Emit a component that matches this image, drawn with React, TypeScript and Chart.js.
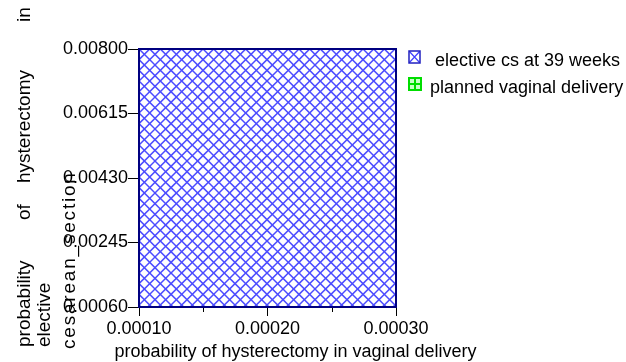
import { useEffect, useRef } from 'react';
import { Chart, registerables } from 'chart.js';

Chart.register(...registerables);

const xMin = 0.0001;
const xMax = 0.0003;
const yMin = 0.0006;
const yMax = 0.008;
const xTickValues = [0.0001, 0.0002, 0.0003];
const xTickLabels = ['0.00010', '0.00020', '0.00030'];
const xMinorTicks = [0.00015, 0.00025];
const yTickValues = [0.0006, 0.00245, 0.0043, 0.00615, 0.008];
const yTickLabels = ['0.00060', '0.00245', '0.00430', '0.00615', '0.00800'];
const seriesNames = ['elective cs at 39 weeks', 'planned vaginal delivery'];
const electiveRegionX = [0.0001, 0.0001, 0.0003, 0.0003];
const electiveRegionY = [0.0006, 0.008, 0.008, 0.0006];
const vaginalRegionX: number[] = [];
const vaginalRegionY: number[] = [];
const xTitle = 'probability of hysterectomy in vaginal delivery';
const yTitleWords = ['probability', 'of', 'hysterectomy', 'in'];
const yTitleLine2 = 'elective';
const yTitleLine3 = 'cesarean_section';

const FONT = 'Arial, "Liberation Sans", sans-serif';

function makeHatch(color: string): CanvasPattern | string {
  const c = document.createElement('canvas');
  c.width = 32;
  c.height = 32;
  const g = c.getContext('2d');
  if (!g) return color;
  const p = 32 / 3;
  g.strokeStyle = color;
  g.lineWidth = 1.5;
  for (let k = -8; k <= 12; k++) {
    const o = k * p;
    g.beginPath();
    g.moveTo(o - 40, -40);
    g.lineTo(o + 40, 40);
    g.stroke();
    g.beginPath();
    g.moveTo(o + 40, -40);
    g.lineTo(o - 40, 40);
    g.stroke();
  }
  const pat = g.createPattern(c, 'repeat');
  return pat || color;
}

export default function App() {
  const ref = useRef<HTMLCanvasElement | null>(null);
  useEffect(() => {
    const canvas = ref.current;
    if (!canvas) return;
    const hatch = makeHatch('#4c4cff');
    if (typeof hatch !== 'string') {
      try {
        hatch.setTransform(new DOMMatrix([1, 0, 0, 1, 139, 49]));
      } catch (e) {}
    }

    const decor = {
      id: 'decor',
      afterDatasetsDraw(chart: any) {
        const { ctx, chartArea: a, scales } = chart;
        ctx.save();
        ctx.strokeStyle = '#000';
        ctx.lineWidth = 1;
        xMinorTicks.forEach((v) => {
          const px = Math.round(scales.x.getPixelForValue(v)) + 0.5;
          ctx.beginPath();
          ctx.moveTo(px, a.bottom);
          ctx.lineTo(px, a.bottom + 5);
          ctx.stroke();
        });
        ctx.strokeStyle = '#000080';
        ctx.lineWidth = 2;
        ctx.strokeRect(a.left, a.top, a.right - a.left, a.bottom - a.top);
        ctx.restore();
      },
      afterDraw(chart: any) {
        const { ctx, chartArea: a } = chart;
        ctx.save();
        ctx.fillStyle = '#000';
        ctx.font = `18px ${FONT}`;
        ctx.textAlign = 'center';
        ctx.textBaseline = 'alphabetic';
        ctx.fillText(xTitle, (a.left + a.right) / 2 + 28, 357);

        // y title, rotated, three lines
        ctx.font = `19px ${FONT}`;
        ctx.textAlign = 'left';
        const wordStarts = [347, 220, 183, 22];
        yTitleWords.forEach((w, i) => {
          ctx.save();
          ctx.translate(30, wordStarts[i]);
          ctx.rotate(-Math.PI / 2);
          ctx.fillText(w, 0, 0);
          ctx.restore();
        });
        ctx.save();
        ctx.translate(50, 347);
        ctx.rotate(-Math.PI / 2);
        ctx.fillText(yTitleLine2, 0, 0);
        ctx.restore();
        ctx.save();
        try {
          (ctx as any).letterSpacing = '1.8px';
        } catch (e) {}
        ctx.translate(75, 349);
        ctx.rotate(-Math.PI / 2);
        ctx.fillText(yTitleLine3, 0, 0);
        ctx.restore();

        // legend
        const ds = chart.data.datasets;
        ctx.save();
        ctx.beginPath();
        ctx.rect(409, 51, 11, 12);
        ctx.fillStyle = '#fff';
        ctx.fill();
        ctx.clip();
        ctx.strokeStyle = '#4040ff';
        ctx.lineWidth = 1.3;
        ctx.beginPath();
        ctx.moveTo(409, 51);
        ctx.lineTo(420, 63);
        ctx.moveTo(420, 51);
        ctx.lineTo(409, 63);
        ctx.stroke();
        ctx.restore();
        ctx.strokeStyle = '#2020c0';
        ctx.lineWidth = 1.5;
        ctx.strokeRect(409, 51, 11, 12);
        ctx.fillStyle = '#c8ffc8';
        ctx.fillRect(409, 78, 12, 12);
        ctx.strokeStyle = '#00dd00';
        ctx.lineWidth = 2;
        ctx.strokeRect(409, 78, 12, 12);
        ctx.beginPath();
        ctx.moveTo(415, 78);
        ctx.lineTo(415, 90);
        ctx.moveTo(409, 84);
        ctx.lineTo(421, 84);
        ctx.stroke();

        ctx.fillStyle = '#000';
        ctx.font = `18px ${FONT}`;
        ctx.textAlign = 'left';
        ctx.textBaseline = 'alphabetic';
        ctx.fillText(ds[0].label, 435, 66);
        ctx.fillText(ds[1].label, 430, 93);
        ctx.restore();
      },
    };

    const chart = new Chart(canvas, {
      type: 'line',
      data: {
        datasets: [
          {
            label: seriesNames[0],
            data: electiveRegionX.map((x, i) => ({ x, y: electiveRegionY[i] })),
            backgroundColor: hatch as any,
            borderWidth: 0,
            pointRadius: 0,
            fill: 'start',
            tension: 0,
          },
          {
            label: seriesNames[1],
            data: vaginalRegionX.map((x, i) => ({ x, y: vaginalRegionY[i] })),
            backgroundColor: '#00ff00',
            borderWidth: 0,
            pointRadius: 0,
            fill: 'start',
          },
        ],
      },
      options: {
        responsive: false,
        animation: false,
        devicePixelRatio: 1,
        layout: { padding: { top: 49, right: 230, left: 0, bottom: 0 } },
        plugins: { legend: { display: false }, tooltip: { enabled: false } },
        scales: {
          x: {
            type: 'linear',
            min: xMin,
            max: xMax,
            afterFit: (s: any) => {
              s.height = 55;
            },
            afterBuildTicks: (s: any) => {
              s.ticks = xTickValues.map((v) => ({ value: v }));
            },
            ticks: {
              autoSkip: false,
              maxRotation: 0,
              padding: 2,
              color: '#000',
              font: { family: FONT, size: 18 },
              callback: (_v: any, i: number) => xTickLabels[i],
            },
            grid: { drawOnChartArea: false, drawTicks: true, tickLength: 9, color: '#000' },
            border: { display: false },
          },
          y: {
            type: 'linear',
            min: yMin,
            max: yMax,
            afterFit: (s: any) => {
              s.width = 139;
            },
            afterBuildTicks: (s: any) => {
              s.ticks = yTickValues.map((v) => ({ value: v }));
            },
            ticks: {
              autoSkip: false,
              padding: 0,
              color: '#000',
              font: { family: FONT, size: 18 },
              callback: (_v: any, i: number) => yTickLabels[i],
            },
            grid: { drawOnChartArea: false, drawTicks: true, tickLength: 11, color: '#000' },
            border: { display: false },
          },
        },
      },
      plugins: [decor],
    });
    return () => chart.destroy();
  }, []);

  return (
    <div style={{ position: 'absolute', left: 0, top: 0, width: 626, height: 362, background: '#fff' }}>
      <canvas ref={ref} width={626} height={362} style={{ display: 'block' }} />
    </div>
  );
}
